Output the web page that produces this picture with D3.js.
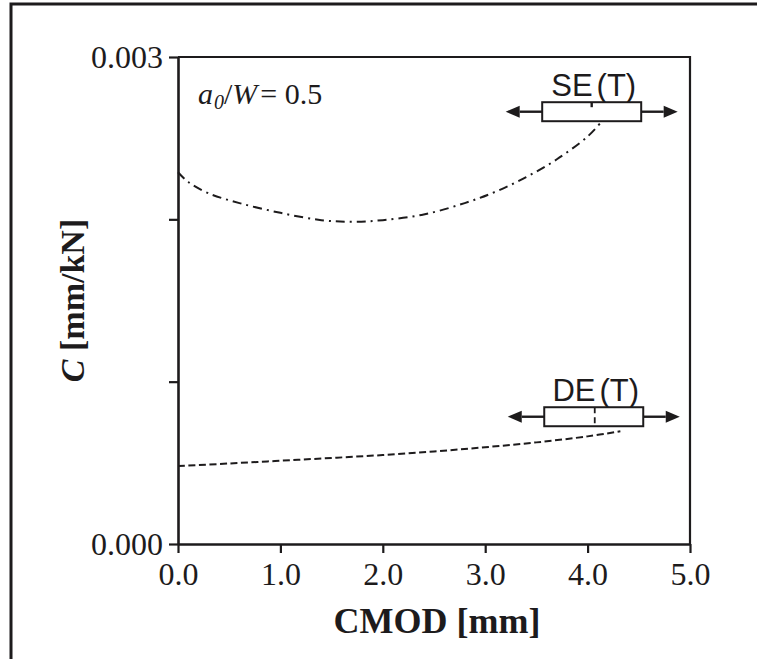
<!DOCTYPE html>
<html>
<head>
<meta charset="utf-8">
<script src="https://cdn.jsdelivr.net/npm/d3@7/dist/d3.min.js"></script>
<style>
  html, body { margin: 0; padding: 0; background: #fff; }
  svg { display: block; }
</style>
</head>
<body>
<svg id="chart" width="757" height="659"></svg>
<script>
// Compliance C versus crack mouth opening displacement (CMOD)
const seCmod = [0, 0.1, 0.3, 0.6, 1.0, 1.4, 1.7, 2.0, 2.4, 2.8, 3.1, 3.4, 3.7, 4.0, 4.12];
const seC    = [0.00229, 0.00223, 0.00216, 0.00210, 0.00204, 0.001995, 0.001985, 0.001995, 0.00203, 0.00210, 0.00217, 0.00226, 0.00237, 0.00251, 0.00259];

const deCmod = [0, 0.5, 1.0, 1.5, 2.0, 2.5, 3.0, 3.5, 4.0, 4.32];
const deC    = [0.000480, 0.000496, 0.000513, 0.000530, 0.000548, 0.000570, 0.000596, 0.000626, 0.000663, 0.000694];

const xTicks = [0, 1, 2, 3, 4, 5];
const xTickLabels = ["0.0", "1.0", "2.0", "3.0", "4.0", "5.0"];
const yTicks = [0, 0.001, 0.002, 0.003];
const yTickLabels = ["0.000", "", "", "0.003"];

const ink = "#1d1b1c";
const svg = d3.select("#chart");

const margin = { left: 178, right: 67, top: 57, bottom: 115 };
const W = 757, H = 659;

const x = d3.scaleLinear().domain([0, 5]).range([margin.left, W - margin.right]);
const y = d3.scaleLinear().domain([0, 0.003]).range([H - margin.bottom, margin.top]);

// outer frame (left and top edges)
svg.append("path")
  .attr("d", `M11,${H + 5} L11,4 L${W + 5},4`)
  .attr("fill", "none").attr("stroke", ink).attr("stroke-width", 3);

// plot box: top and right borders
svg.append("path")
  .attr("d", `M${x(0)},${y(0.003)} L${x(5)},${y(0.003)} L${x(5)},${y(0)}`)
  .attr("fill", "none").attr("stroke", ink).attr("stroke-width", 2.2);

// axes
const xAxis = d3.axisBottom(x).tickValues(xTicks).tickSizeInner(9).tickSizeOuter(0).tickPadding(9)
  .tickFormat((d, i) => xTickLabels[i]);
const yAxis = d3.axisLeft(y).tickValues(yTicks).tickSizeInner(9).tickSizeOuter(0).tickPadding(6)
  .tickFormat((d, i) => yTickLabels[i]);

const gx = svg.append("g").attr("transform", `translate(0,${y(0)})`).call(xAxis);
const gy = svg.append("g").attr("transform", `translate(${x(0)},0)`).call(yAxis);

[gx, gy].forEach(g => {
  g.select(".domain").attr("stroke", ink).attr("stroke-width", 2.6);
  g.selectAll(".tick line").attr("stroke", ink).attr("stroke-width", 2.2);
  g.selectAll(".tick text")
    .attr("fill", ink)
    .style("font-family", "'Liberation Serif', 'Times New Roman', serif")
    .style("font-size", "32px");
});
gx.selectAll(".tick text").attr("dy", "0.72em");
gy.selectAll(".tick text").attr("dy", "0.34em");

// axis titles
svg.append("text")
  .attr("x", (x(0) + x(5)) / 2 + 3)
  .attr("y", 633)
  .attr("text-anchor", "middle")
  .attr("fill", ink)
  .style("font-family", "'Liberation Serif', 'Times New Roman', serif")
  .style("font-size", "36px").style("font-weight", "bold")
  .text("CMOD [mm]");

const yt = svg.append("text")
  .attr("transform", `translate(84,${(y(0) + y(0.003)) / 2}) rotate(-90)`)
  .attr("text-anchor", "middle")
  .attr("fill", ink)
  .style("font-family", "'Liberation Serif', 'Times New Roman', serif")
  .style("font-size", "34px").style("font-weight", "bold");
yt.append("tspan").style("font-style", "italic").text("C");
yt.append("tspan").text(" [mm/kN]");

// series curves
const line = d3.line().x(d => x(d[0])).y(d => y(d[1])).curve(d3.curveCatmullRom.alpha(0.5));

svg.append("path")
  .datum(seCmod.map((v, i) => [v, seC[i]]))
  .attr("d", line)
  .attr("fill", "none").attr("stroke", ink).attr("stroke-width", 2)
  .attr("stroke-dasharray", "9,5,2,5");

svg.append("path")
  .datum(deCmod.map((v, i) => [v, deC[i]]))
  .attr("d", line)
  .attr("fill", "none").attr("stroke", ink).attr("stroke-width", 2)
  .attr("stroke-dasharray", "7,3.5");

// specimen annotation: label, box and loading arrows
function specimen(label, cx, cy, centreStyle) {
  const px = x(cx), py = y(cy);
  const bw = 99, bh = 19, reach = 86;
  const g = svg.append("g");
  // arrows
  [-1, 1].forEach(s => {
    const edge = px + s * bw / 2, tip = px + s * reach, base = tip - s * 14;
    g.append("line").attr("x1", edge).attr("x2", base).attr("y1", py).attr("y2", py)
      .attr("stroke", ink).attr("stroke-width", 2.4);
    g.append("path").attr("d", `M${tip},${py} L${base},${py - 6} L${base},${py + 6} Z`)
      .attr("fill", ink);
  });
  g.append("rect").attr("x", px - bw / 2).attr("y", py - bh / 2).attr("width", bw).attr("height", bh)
    .attr("fill", "#fff").attr("stroke", ink).attr("stroke-width", 2);
  if (centreStyle === "top") {
    g.append("line").attr("x1", px).attr("x2", px).attr("y1", py - bh / 2).attr("y2", py - bh / 2 + 5)
      .attr("stroke", ink).attr("stroke-width", 2.4);
  } else {
    g.append("line").attr("x1", px + 1).attr("x2", px + 1).attr("y1", py - bh / 2).attr("y2", py + bh / 2)
      .attr("stroke", ink).attr("stroke-width", 1.8).attr("stroke-dasharray", "6,4");
  }
  const t = g.append("text")
    .attr("x", px + 2).attr("y", py - bh / 2 - 6)
    .attr("text-anchor", "middle")
    .attr("fill", ink)
    .style("font-family", "'Liberation Sans', Arial, sans-serif")
    .style("font-size", "31px");
  t.append("tspan").text(label);
  t.append("tspan").attr("dx", 4).text("(T)");
}
specimen("SE", 4.04, 0.002663, "top");
specimen("DE", 4.06, 0.000784, "dashed");

// crack length ratio note
const note = svg.append("text")
  .attr("x", 198).attr("y", 104)
  .attr("fill", ink)
  .style("font-family", "'Liberation Serif', 'Times New Roman', serif")
  .style("font-size", "30px");
note.append("tspan").style("font-style", "italic").text("a");
note.append("tspan").style("font-style", "italic").style("font-size", "20px").attr("dy", 5).attr("dx", 1).text("0");
note.append("tspan").attr("dy", -5).text("/");
note.append("tspan").style("font-style", "italic").text("W");
note.append("tspan").attr("dx", 3).text("= 0.5");
</script>
</body>
</html>
